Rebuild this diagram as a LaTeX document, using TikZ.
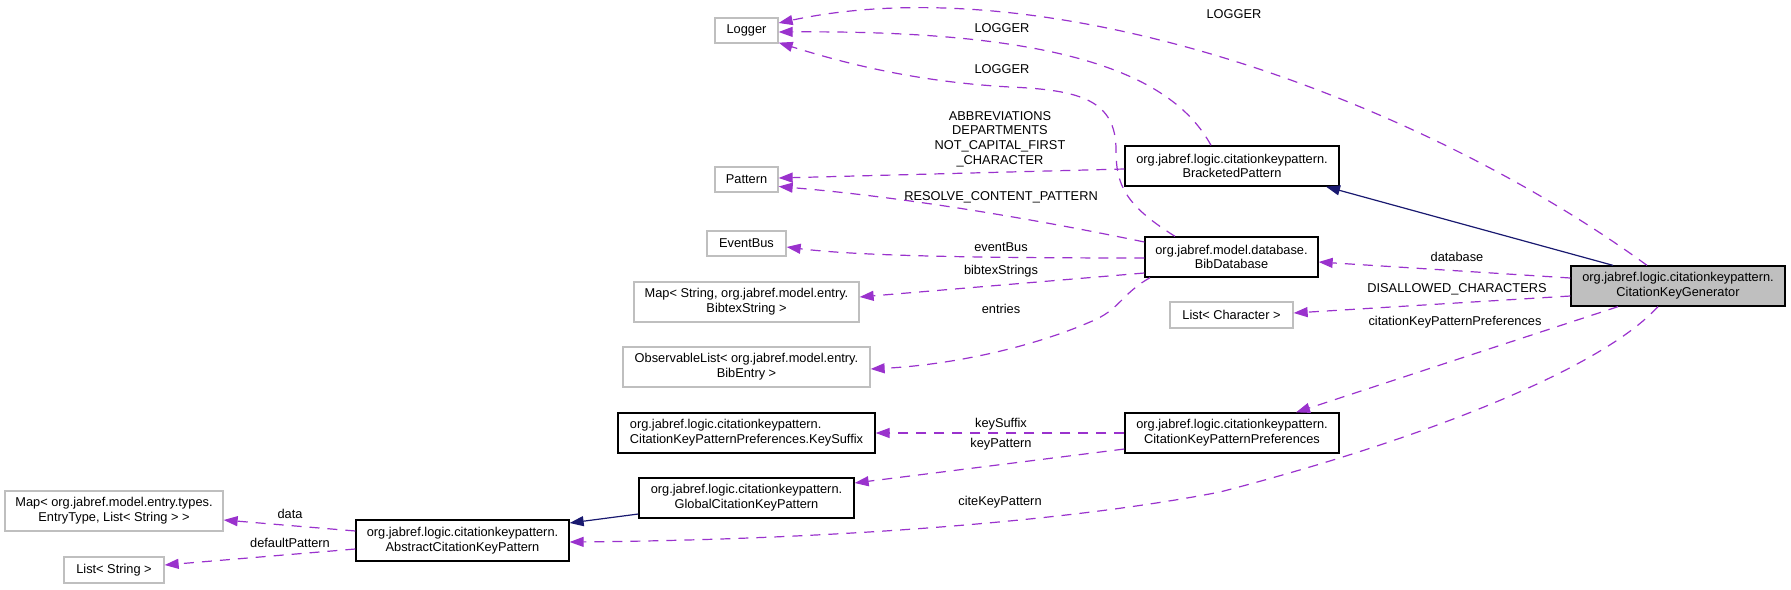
\documentclass[tikz,border=0pt]{standalone}
\usepackage{fontspec}
\setmainfont{Liberation Sans}
\usetikzlibrary{arrows.meta,calc}
\definecolor{edgepurple}{HTML}{9A32CD}
\definecolor{edgeblue}{HTML}{191970}
\definecolor{greyline}{HTML}{BFBFBF}
\tikzset{
  box/.style={draw=black, line width=1.3pt, inner sep=0pt, align=center,
    font=\fontsize{12.8}{14.7}\selectfont, minimum height=40pt},
  gbox/.style={box, draw=greyline},
  onebox/.style={minimum height=25pt},
  usedep/.style={draw=edgepurple, line width=1.2pt, dash pattern=on 10pt off 8pt,
    -{Triangle[length=14pt,width=10pt,fill=edgepurple]}},
  inherit/.style={draw=edgeblue, line width=1.2pt,
    -{Triangle[length=14pt,width=10pt,fill=edgeblue]}},
  elabel/.style={inner sep=0pt, align=center, font=\fontsize{12.8}{14.7}\selectfont}
}
\begin{document}
\begin{tikzpicture}[x=1pt,y=-1pt]
\useasboundingbox (0,0) rectangle (1791,589);
% nodes
\node[gbox,onebox,minimum width=63pt] (logger) at (746.5,30.5) {Logger};
\node[gbox,onebox,minimum width=63pt] (pattern) at (746.5,179.5) {Pattern};
\node[gbox,onebox,minimum width=79pt] (eventbus) at (746.5,243.5) {EventBus};
\node[gbox,minimum width=225pt] (mapstr) at (746.5,302) {Map< String, org.jabref.model.entry.\\BibtexString >};
\node[gbox,minimum width=247pt] (obslist) at (746.5,367) {ObservableList< org.jabref.model.entry.\\BibEntry >};
\node[box,minimum width=257pt,align=left] (keysuffix) at (746.5,433) {org.jabref.logic.citationkeypattern.\\CitationKeyPatternPreferences.KeySuffix};
\node[box,minimum width=215pt] (global) at (746.5,498) {org.jabref.logic.citationkeypattern.\\GlobalCitationKeyPattern};
\node[box,minimum width=214pt] (bracket) at (1232,166) {org.jabref.logic.citationkeypattern.\\BracketedPattern};
\node[box,minimum width=173pt] (bibdb) at (1231.5,257) {org.jabref.model.database.\\BibDatabase};
\node[box,minimum width=214pt] (ckpp) at (1232,433) {org.jabref.logic.citationkeypattern.\\CitationKeyPatternPreferences};
\node[box,minimum width=214pt,fill=greyline] (ckg) at (1678,286) {org.jabref.logic.citationkeypattern.\\CitationKeyGenerator};
\node[gbox,minimum width=123pt,minimum height=26pt] (listchar) at (1231.5,315) {List< Character >};
\node[gbox,minimum width=218pt] (mapentry) at (114,511) {Map< org.jabref.model.entry.types.\\EntryType, List< String > >};
\node[gbox,minimum width=100pt,minimum height=26pt] (liststr) at (114,570) {List< String >};
\node[box,minimum width=213pt,minimum height=41pt] (abstract) at (462.5,540.5) {org.jabref.logic.citationkeypattern.\\AbstractCitationKeyPattern};
% edges
\draw[usedep] ($(ckg.north)+(-31,0)$) .. controls (1420,100) and (1050,-35) .. ($(logger.east)+(0,-7.5)$);
\draw[usedep] ($(bracket.north)+(-21,0)$) .. controls (1170,70) and (1050,30) .. ($(logger.east)+(0,1.5)$);
\draw[usedep] ($(bibdb.north)+(-56.5,0)$) .. controls (1125,205) and (1116,185) .. (1116,150)
  .. controls (1116,100) and (1080,90) .. (1010,87)
  .. controls (920,82) and (850,65) .. ($(logger.south east)+(0,-1)$);
\draw[usedep] ($(bracket.west)+(0,3)$) -- ($(pattern.east)+(0,-1.5)$);
\draw[usedep] ($(bibdb.west)+(0,-15)$) .. controls (1000,212) and (880,195) .. ($(pattern.east)+(0,7)$);
\draw[usedep] ($(bibdb.west)+(0,1)$) .. controls (950,258) and (850,255) .. ($(eventbus.east)+(0,3.5)$);
\draw[usedep] ($(bibdb.west)+(0,16)$) -- ($(mapstr.east)+(0,-5)$);
\draw[usedep] ($(bibdb.south)+(-81.5,0)$) .. controls (1120,295) and (1120,310) .. (1090,322)
  .. controls (1030,348) and (950,365) .. ($(obslist.east)+(0,2)$);
\draw[inherit] ($(ckg.north)+(-65,0)$) -- ($(bracket.south)+(94,0)$);
\draw[usedep] ($(ckg.west)+(0,-8)$) -- ($(bibdb.east)+(0,5)$);
\draw[usedep] ($(ckg.west)+(0,10)$) -- ($(listchar.east)+(0,-2)$);
\draw[usedep] ($(ckg.south)+(-60,0)$) -- ($(ckpp.north)+(64,0)$);
\draw[usedep] ($(ckg.south)+(-20,0)$) .. controls (1600,370) and (1420,440) .. (1220,492)
  .. controls (1050,525) and (800,540) .. ($(abstract.east)+(0,1.5)$);
\draw[usedep] (ckpp.west) -- (keysuffix.east);
\draw[usedep] ($(ckpp.west)+(0,16)$) -- ($(global.east)+(0,-15)$);
\draw[inherit] ($(global.west)+(0,16)$) -- ($(abstract.east)+(0,-17.5)$);
\draw[usedep] ($(abstract.west)+(0,-9.5)$) -- ($(mapentry.east)+(0,9)$);
\draw[usedep] ($(abstract.west)+(0,8.5)$) -- ($(liststr.east)+(0,-5)$);
% edge labels
\node[elabel] (l1) at (1234,14) {LOGGER};
\node[elabel] (l2) at (1002,28) {LOGGER};
\node[elabel] (l3) at (1002,69) {LOGGER};
\node[elabel] (l4) at (1000,139) {ABBREVIATIONS\\DEPARTMENTS\\NOT\_CAPITAL\_FIRST\\\_CHARACTER};
\node[elabel] (l5) at (1001,197) {RESOLVE\_CONTENT\_PATTERN};
\node[elabel] (l6) at (1001,247) {eventBus};
\node[elabel] (l7) at (1001,271) {bibtexStrings};
\node[elabel] (l8) at (1001,309) {entries};
\node[elabel] (l9) at (1457,257) {database};
\node[elabel] (l10) at (1457,289) {DISALLOWED\_CHARACTERS};
\node[elabel] (l11) at (1455,322) {citationKeyPatternPreferences};
\node[elabel] (l12) at (1000,502) {citeKeyPattern};
\node[elabel] (l13) at (1001,424) {keySuffix};
\node[elabel] (l14) at (1001,444) {keyPattern};
\node[elabel] (l15) at (290,514) {data};
\node[elabel] (l16) at (290,543) {defaultPattern};
\end{tikzpicture}
\end{document}
